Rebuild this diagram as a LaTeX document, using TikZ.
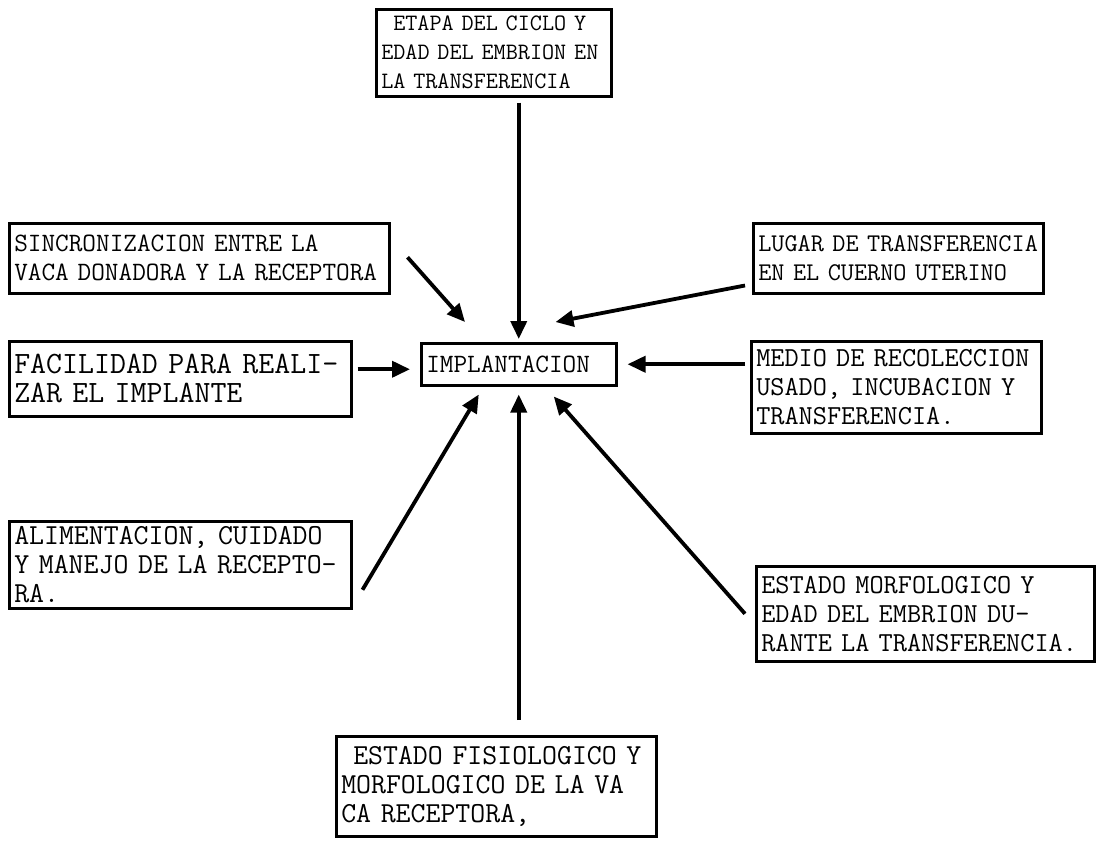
\documentclass[tikz,border=0pt]{standalone}
\usepackage{fontspec}
\usetikzlibrary{arrows.meta,positioning,calc}
\newcommand{\maq}[1]{\ttfamily\fontsize{#1}{29}\selectfont}
\tikzset{
  factor/.style={draw, line width=2.5pt, anchor=north west,
                 inner xsep=5pt, inner ysep=3pt, align=left},
  flecha/.style={line width=3.8pt, -{Triangle[length=18pt,width=16pt]}},
}
\begin{document}
\begin{tikzpicture}[x=1pt,y=-1pt]
\useasboundingbox (0,0) rectangle (1105,841);
% centro
\node[factor,text width=185pt,minimum height=42pt,font=\maq{26.5}] (impl) at (420,342) {IMPLANTACION};
% factores
\node[factor,text width=225pt,minimum height=87pt,font=\maq{23.5}] (etapa) at (375,8)
  {\hspace{12pt}ETAPA DEL CICLO Y\\EDAD DEL EMBRION EN\\LA TRANSFERENCIA};
\node[factor,text width=370pt,minimum height=70pt,font=\maq{26.5}] (sinc) at (8,222)
  {SINCRONIZACION ENTRE LA\\VACA DONADORA Y LA RECEPTORA};
\node[factor,text width=280pt,minimum height=70pt,font=\maq{25.5}] (lugar) at (752,222)
  {LUGAR DE TRANSFERENCIA\\EN EL CUERNO UTERINO};
\node[factor,text width=332pt,minimum height=75pt,font=\maq{31}] (facil) at (8,340)
  {FACILIDAD PARA REALI-\\ZAR EL IMPLANTE};
\node[factor,text width=280pt,minimum height=92pt,font=\maq{27.5}] (medio) at (750,340)
  {MEDIO DE RECOLECCION\\USADO, INCUBACION Y\\TRANSFERENCIA.};
\node[factor,text width=332pt,minimum height=87pt,font=\maq{29}] (alim) at (8,520)
  {ALIMENTACION, CUIDADO\\Y MANEJO DE LA RECEPTO-\\RA.};
\node[factor,text width=328pt,minimum height=95pt,font=\maq{27.5}] (morf) at (755,565)
  {ESTADO MORFOLOGICO Y\\EDAD DEL EMBRION DU-\\RANTE LA TRANSFERENCIA.};
\node[factor,text width=310pt,minimum height=100pt,font=\maq{29}] (fisio) at (335,735)
  {\hspace{12pt}ESTADO FISIOLOGICO Y\\MORFOLOGICO DE LA VA\\CA RECEPTORA,};
% flechas
\draw[flecha] ($(impl.north |- etapa.south)+(0,5)$) -- ($(impl.north)+(0,-3)$);
\draw[flecha] ($(sinc.east)+(17,-1)$) -- ($(impl.north west)+(45,-20)$);
\draw[flecha] ($(lugar.south west)+(-7,-9)$) -- ($(impl.north east)+(-62,-20)$);
\draw[flecha] ($(facil.east |- impl.west)+(5,5)$) -- ($(impl.west)+(-10,5)$);
\draw[flecha] ($(medio.west |- impl.east)+(-5,0)$) -- ($(impl.east)+(10,0)$);
\draw[flecha] ($(alim.east)+(10,25)$) -- ($(impl.south)+(-40,8)$);
\draw[flecha] ($(impl.south |- fisio.north)+(0,-15)$) -- ($(impl.south)+(0,8)$);
\draw[flecha] ($(morf.west)+(-10,0)$) -- ($(impl.south)+(35,10)$);
\end{tikzpicture}
\end{document}
